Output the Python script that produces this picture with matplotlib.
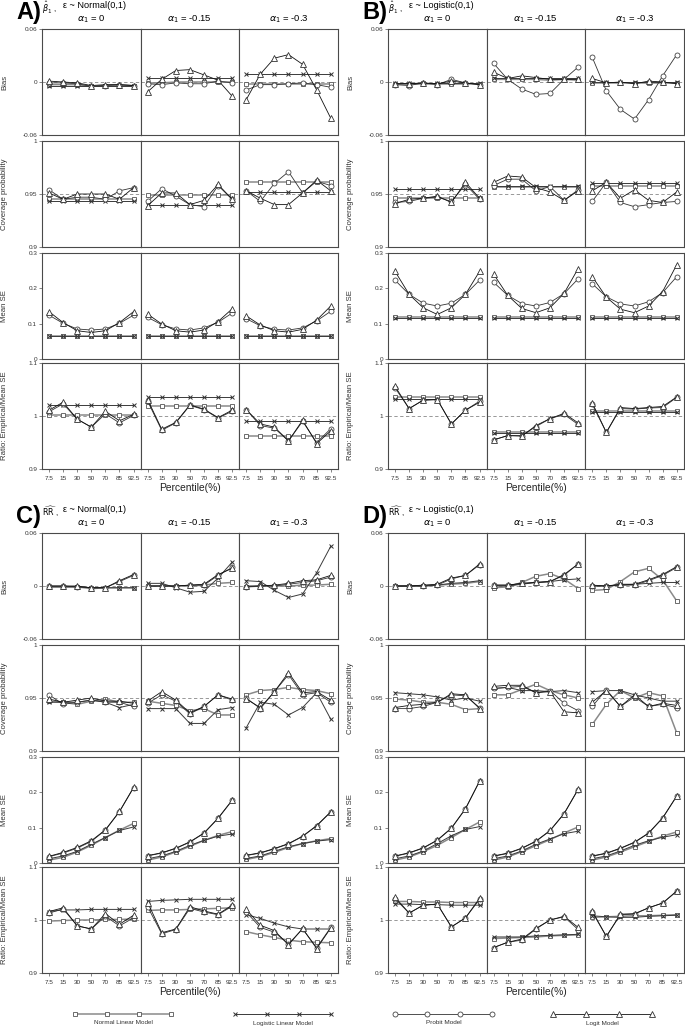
import matplotlib
matplotlib.use('Agg')
import matplotlib.pyplot as plt

plt.rcParams['font.family'] = ['Liberation Sans', 'DejaVu Sans']
plt.rcParams['mathtext.fontset'] = 'dejavusans'

percentiles = ['7.5', '15', '30', '50', '70', '85', '92.5']
alphas = ['0', '-0.15', '-0.3']
models = ['Normal Linear Model', 'Logistic Linear Model', 'Probit Model', 'Logit Model']
metric_labels = ['Bias', 'Coverage probability', 'Mean SE', 'Ratio: Empirical/Mean SE']

# ---------------- Panel A: beta1, eps ~ Normal ----------------
A_bias = {
    'normal':   [[-0.003, -0.003, -0.003, -0.005, -0.004, -0.004, -0.004],
                 [-0.001, -0.001, 0.000, 0.000, 0.000, 0.000, 0.000],
                 [-0.002, -0.002, -0.002, -0.002, -0.002, -0.002, -0.002]],
    'logistic': [[-0.004, -0.004, -0.004, -0.004, -0.004, -0.004, -0.004],
                 [0.004, 0.004, 0.004, 0.004, 0.004, 0.004, 0.004],
                 [0.009, 0.009, 0.009, 0.009, 0.009, 0.009, 0.009]],
    'probit':   [[-0.001, -0.001, -0.002, -0.005, -0.004, -0.003, -0.004],
                 [-0.002, -0.003, -0.001, -0.002, -0.002, 0.001, -0.001],
                 [-0.009, -0.003, -0.003, -0.002, -0.001, -0.003, -0.006]],
    'logit':    [[0.001, 0.000, -0.001, -0.004, -0.003, -0.003, -0.004],
                 [-0.011, 0.003, 0.013, 0.014, 0.008, 0.002, -0.016],
                 [-0.020, 0.009, 0.027, 0.031, 0.020, -0.009, -0.041]],
}
A_cov = {
    'normal':   [[0.945, 0.945, 0.945, 0.945, 0.945, 0.945, 0.945],
                 [0.949, 0.949, 0.949, 0.949, 0.949, 0.949, 0.949],
                 [0.961, 0.961, 0.961, 0.961, 0.961, 0.961, 0.961]],
    'logistic': [[0.943, 0.943, 0.943, 0.943, 0.943, 0.943, 0.943],
                 [0.940, 0.940, 0.940, 0.940, 0.940, 0.940, 0.940],
                 [0.952, 0.952, 0.952, 0.952, 0.952, 0.952, 0.952]],
    'probit':   [[0.954, 0.945, 0.947, 0.947, 0.945, 0.953, 0.956],
                 [0.943, 0.955, 0.948, 0.940, 0.938, 0.958, 0.945],
                 [0.953, 0.943, 0.960, 0.971, 0.951, 0.962, 0.958]],
    'logit':    [[0.951, 0.945, 0.950, 0.950, 0.950, 0.945, 0.956],
                 [0.939, 0.951, 0.951, 0.940, 0.944, 0.959, 0.945],
                 [0.953, 0.946, 0.940, 0.940, 0.951, 0.963, 0.953]],
}
A_se = {
    'normal':   [[0.065, 0.065, 0.065, 0.065, 0.065, 0.065, 0.065],
                 [0.065, 0.065, 0.065, 0.065, 0.065, 0.065, 0.065],
                 [0.065, 0.065, 0.065, 0.065, 0.065, 0.065, 0.065]],
    'logistic': [[0.064, 0.064, 0.064, 0.064, 0.064, 0.064, 0.064],
                 [0.064, 0.064, 0.064, 0.064, 0.064, 0.064, 0.064],
                 [0.064, 0.064, 0.064, 0.064, 0.064, 0.064, 0.064]],
    'probit':   [[0.124, 0.101, 0.085, 0.082, 0.085, 0.101, 0.124],
                 [0.118, 0.097, 0.085, 0.082, 0.088, 0.104, 0.130],
                 [0.114, 0.094, 0.084, 0.082, 0.088, 0.108, 0.135]],
    'logit':    [[0.134, 0.103, 0.080, 0.075, 0.080, 0.103, 0.134],
                 [0.127, 0.099, 0.080, 0.076, 0.082, 0.106, 0.142],
                 [0.122, 0.096, 0.080, 0.076, 0.084, 0.110, 0.150]],
}
A_ratio = {
    'normal':   [[1.002, 1.002, 1.002, 1.002, 1.002, 1.002, 1.002],
                 [1.018, 1.018, 1.018, 1.018, 1.018, 1.018, 1.018],
                 [0.963, 0.963, 0.963, 0.963, 0.963, 0.963, 0.963]],
    'logistic': [[1.021, 1.021, 1.021, 1.021, 1.021, 1.021, 1.021],
                 [1.036, 1.036, 1.036, 1.036, 1.036, 1.036, 1.036],
                 [0.990, 0.990, 0.990, 0.990, 0.990, 0.990, 0.990]],
    'probit':   [[1.008, 1.023, 0.994, 0.979, 1.004, 0.987, 1.001],
                 [1.028, 0.973, 0.987, 1.020, 1.012, 0.996, 1.009],
                 [1.012, 0.982, 0.977, 0.953, 0.990, 0.950, 0.976]],
    'logit':    [[1.011, 1.026, 0.994, 0.979, 1.009, 0.991, 1.003],
                 [1.031, 0.975, 0.988, 1.021, 1.013, 0.997, 1.011],
                 [1.012, 0.985, 0.979, 0.953, 0.992, 0.948, 0.972]],
}

# ---------------- Panel B: beta1, eps ~ Logistic ----------------
B_bias = {
    'normal':   [[-0.002, -0.002, -0.002, -0.002, -0.002, -0.002, -0.002],
                 [0.003, 0.003, 0.003, 0.003, 0.002, 0.003, 0.002],
                 [-0.001, -0.001, -0.001, -0.001, -0.001, -0.001, -0.001]],
    'logistic': [[-0.001, -0.001, -0.001, -0.001, -0.001, -0.001, -0.001],
                 [0.004, 0.004, 0.004, 0.004, 0.004, 0.004, 0.004],
                 [0.000, 0.000, 0.000, 0.000, 0.000, 0.000, 0.000]],
    'probit':   [[-0.003, -0.004, -0.001, -0.003, 0.003, -0.001, -0.003],
                 [0.021, 0.003, -0.008, -0.014, -0.013, 0.003, 0.017],
                 [0.028, -0.010, -0.031, -0.042, -0.020, 0.007, 0.031]],
    'logit':    [[-0.002, -0.002, -0.001, -0.002, 0.001, -0.001, -0.003],
                 [0.011, 0.004, 0.007, 0.005, 0.003, 0.003, 0.003],
                 [0.004, -0.001, 0.000, -0.002, 0.001, 0.000, -0.002]],
}
B_cov = {
    'normal':   [[0.946, 0.946, 0.946, 0.946, 0.946, 0.946, 0.946],
                 [0.957, 0.957, 0.957, 0.957, 0.957, 0.957, 0.957],
                 [0.958, 0.958, 0.958, 0.958, 0.958, 0.958, 0.958]],
    'logistic': [[0.955, 0.955, 0.955, 0.955, 0.955, 0.955, 0.955],
                 [0.958, 0.958, 0.958, 0.958, 0.958, 0.958, 0.958],
                 [0.960, 0.960, 0.960, 0.960, 0.960, 0.960, 0.960]],
    'probit':   [[0.942, 0.943, 0.946, 0.947, 0.943, 0.959, 0.945],
                 [0.958, 0.964, 0.964, 0.953, 0.957, 0.944, 0.954],
                 [0.943, 0.961, 0.942, 0.938, 0.940, 0.942, 0.943]],
    'logit':    [[0.941, 0.945, 0.946, 0.948, 0.942, 0.961, 0.946],
                 [0.961, 0.967, 0.966, 0.956, 0.952, 0.944, 0.953],
                 [0.953, 0.961, 0.946, 0.954, 0.944, 0.942, 0.952]],
}
B_se = {
    'normal':   [[0.119, 0.119, 0.119, 0.119, 0.119, 0.119, 0.119],
                 [0.119, 0.119, 0.119, 0.119, 0.119, 0.119, 0.119],
                 [0.119, 0.119, 0.119, 0.119, 0.119, 0.119, 0.119]],
    'logistic': [[0.115, 0.115, 0.115, 0.115, 0.115, 0.115, 0.115],
                 [0.115, 0.115, 0.115, 0.115, 0.115, 0.115, 0.115],
                 [0.115, 0.115, 0.115, 0.115, 0.115, 0.115, 0.115]],
    'probit':   [[0.223, 0.183, 0.158, 0.150, 0.158, 0.183, 0.223],
                 [0.217, 0.180, 0.157, 0.150, 0.160, 0.185, 0.227],
                 [0.213, 0.176, 0.156, 0.150, 0.162, 0.188, 0.233]],
    'logit':    [[0.248, 0.183, 0.145, 0.126, 0.145, 0.183, 0.248],
                 [0.240, 0.180, 0.143, 0.131, 0.145, 0.186, 0.256],
                 [0.233, 0.175, 0.141, 0.131, 0.150, 0.191, 0.267]],
}
B_ratio = {
    'normal':   [[1.035, 1.035, 1.035, 1.035, 1.035, 1.035, 1.035],
                 [0.969, 0.969, 0.969, 0.969, 0.969, 0.969, 0.969],
                 [1.009, 1.009, 1.009, 1.009, 1.009, 1.009, 1.009]],
    'logistic': [[1.033, 1.033, 1.033, 1.033, 1.033, 1.033, 1.033],
                 [0.968, 0.968, 0.968, 0.968, 0.968, 0.968, 0.968],
                 [1.008, 1.008, 1.008, 1.008, 1.008, 1.008, 1.008]],
    'probit':   [[1.053, 1.014, 1.030, 1.031, 0.985, 1.011, 1.028],
                 [0.955, 0.963, 0.963, 0.980, 0.995, 1.003, 0.984],
                 [1.022, 0.969, 1.014, 1.013, 1.015, 1.016, 1.035]],
    'logit':    [[1.056, 1.014, 1.030, 1.031, 0.985, 1.011, 1.026],
                 [0.955, 0.963, 0.962, 0.982, 0.995, 1.005, 0.987],
                 [1.025, 0.969, 1.016, 1.014, 1.016, 1.018, 1.036]],
}

# ---------------- Panel C: RR, eps ~ Normal ----------------
C_bias = {
    'normal':   [[-0.001, -0.001, -0.001, -0.003, -0.002, -0.002, -0.002],
                 [0.000, 0.000, 0.000, 0.000, 0.001, 0.003, 0.004],
                 [-0.001, 0.000, 0.000, 0.000, 0.001, 0.001, 0.002]],
    'logistic': [[-0.001, -0.001, -0.001, -0.002, -0.002, -0.002, -0.002],
                 [0.003, 0.003, -0.002, -0.007, -0.006, 0.009, 0.027],
                 [0.006, 0.005, -0.005, -0.013, -0.009, 0.015, 0.045]],
    'probit':   [[0.000, 0.000, -0.001, -0.002, -0.002, 0.005, 0.012],
                 [0.000, 0.000, 0.000, 0.001, 0.001, 0.012, 0.021],
                 [-0.001, 0.000, 0.000, 0.002, 0.004, 0.006, 0.010]],
    'logit':    [[0.000, 0.000, 0.000, -0.002, -0.002, 0.006, 0.013],
                 [0.000, 0.000, 0.000, 0.001, 0.002, 0.013, 0.020],
                 [0.000, 0.000, 0.001, 0.003, 0.006, 0.007, 0.012]],
}
C_cov = {
    'normal':   [[0.947, 0.946, 0.944, 0.947, 0.949, 0.946, 0.946],
                 [0.947, 0.945, 0.943, 0.938, 0.940, 0.934, 0.934],
                 [0.953, 0.957, 0.958, 0.960, 0.958, 0.957, 0.954]],
    'logistic': [[0.946, 0.946, 0.946, 0.948, 0.946, 0.941, 0.944],
                 [0.940, 0.940, 0.940, 0.926, 0.926, 0.939, 0.941],
                 [0.922, 0.946, 0.944, 0.934, 0.941, 0.955, 0.930]],
    'probit':   [[0.953, 0.944, 0.946, 0.948, 0.946, 0.946, 0.942],
                 [0.945, 0.953, 0.947, 0.935, 0.942, 0.953, 0.948],
                 [0.950, 0.940, 0.956, 0.972, 0.953, 0.955, 0.946]],
    'logit':    [[0.949, 0.946, 0.948, 0.950, 0.947, 0.947, 0.945],
                 [0.947, 0.956, 0.948, 0.936, 0.942, 0.953, 0.949],
                 [0.949, 0.941, 0.956, 0.974, 0.955, 0.956, 0.948]],
}
C_se = {
    'normal':   [[0.008, 0.016, 0.031, 0.050, 0.072, 0.093, 0.112],
                 [0.008, 0.017, 0.031, 0.047, 0.064, 0.078, 0.089],
                 [0.010, 0.018, 0.030, 0.044, 0.055, 0.063, 0.069]],
    'logistic': [[0.012, 0.020, 0.033, 0.053, 0.072, 0.092, 0.102],
                 [0.012, 0.020, 0.033, 0.050, 0.064, 0.076, 0.082],
                 [0.013, 0.020, 0.033, 0.046, 0.055, 0.062, 0.066]],
    'probit':   [[0.018, 0.028, 0.042, 0.061, 0.093, 0.145, 0.213],
                 [0.020, 0.028, 0.041, 0.059, 0.084, 0.126, 0.177],
                 [0.021, 0.028, 0.040, 0.054, 0.075, 0.105, 0.144]],
    'logit':    [[0.019, 0.030, 0.044, 0.063, 0.094, 0.146, 0.214],
                 [0.021, 0.029, 0.042, 0.060, 0.085, 0.127, 0.178],
                 [0.022, 0.029, 0.041, 0.055, 0.076, 0.106, 0.145]],
}
C_ratio = {
    'normal':   [[0.998, 0.999, 1.000, 1.000, 1.001, 1.001, 1.002],
                 [1.018, 1.019, 1.019, 1.020, 1.021, 1.022, 1.023],
                 [0.978, 0.972, 0.967, 0.962, 0.959, 0.958, 0.957]],
    'logistic': [[1.016, 1.019, 1.019, 1.020, 1.020, 1.020, 1.020],
                 [1.035, 1.037, 1.038, 1.039, 1.039, 1.039, 1.039],
                 [1.010, 1.003, 0.994, 0.987, 0.983, 0.983, 0.983]],
    'probit':   [[1.013, 1.021, 0.989, 0.983, 1.007, 0.989, 1.004],
                 [1.025, 0.974, 0.982, 1.022, 1.015, 1.010, 1.026],
                 [1.015, 0.986, 0.977, 0.955, 0.983, 0.948, 0.986]],
    'logit':    [[1.016, 1.023, 0.989, 0.983, 1.012, 0.992, 1.009],
                 [1.033, 0.976, 0.983, 1.025, 1.017, 1.011, 1.028],
                 [1.020, 0.990, 0.980, 0.953, 0.984, 0.946, 0.985]],
}

# ---------------- Panel D: RR, eps ~ Logistic ----------------
D_bias = {
    'normal':   [[0.000, 0.000, 0.000, 0.001, 0.002, 0.003, 0.005],
                 [-0.002, -0.001, 0.004, 0.011, 0.014, 0.008, -0.003],
                 [-0.005, -0.004, 0.005, 0.016, 0.020, 0.007, -0.017]],
    'logistic': [[0.000, 0.000, 0.000, 0.001, 0.003, 0.004, 0.006],
                 [0.000, 0.000, 0.002, 0.004, 0.005, 0.007, 0.008],
                 [0.000, 0.000, 0.001, 0.002, 0.003, 0.004, 0.004]],
    'probit':   [[0.000, 0.000, 0.000, 0.001, 0.008, 0.012, 0.024],
                 [0.001, 0.001, 0.003, 0.004, 0.005, 0.012, 0.025],
                 [0.000, 0.000, 0.001, 0.001, 0.006, 0.012, 0.021]],
    'logit':    [[0.000, 0.000, 0.001, 0.002, 0.009, 0.012, 0.025],
                 [0.001, 0.001, 0.003, 0.004, 0.005, 0.013, 0.025],
                 [0.001, 0.000, 0.002, 0.002, 0.007, 0.013, 0.022]],
}
D_cov = {
    'normal':   [[0.949, 0.948, 0.946, 0.946, 0.944, 0.939, 0.940],
                 [0.953, 0.953, 0.958, 0.963, 0.957, 0.953, 0.950],
                 [0.925, 0.944, 0.957, 0.950, 0.955, 0.952, 0.917]],
    'logistic': [[0.955, 0.954, 0.953, 0.951, 0.948, 0.950, 0.947],
                 [0.959, 0.960, 0.957, 0.957, 0.956, 0.957, 0.955],
                 [0.956, 0.957, 0.957, 0.953, 0.950, 0.947, 0.947]],
    'probit':   [[0.940, 0.940, 0.942, 0.946, 0.953, 0.952, 0.941],
                 [0.959, 0.960, 0.961, 0.955, 0.957, 0.945, 0.938],
                 [0.942, 0.958, 0.942, 0.951, 0.942, 0.944, 0.941]],
    'logit':    [[0.941, 0.943, 0.944, 0.946, 0.954, 0.953, 0.940],
                 [0.961, 0.962, 0.962, 0.955, 0.956, 0.937, 0.936],
                 [0.946, 0.957, 0.942, 0.953, 0.942, 0.945, 0.943]],
}
D_se = {
    'normal':   [[0.008, 0.017, 0.032, 0.050, 0.072, 0.095, 0.116],
                 [0.008, 0.017, 0.032, 0.049, 0.066, 0.085, 0.102],
                 [0.008, 0.017, 0.031, 0.046, 0.061, 0.076, 0.088]],
    'logistic': [[0.012, 0.020, 0.034, 0.055, 0.077, 0.095, 0.103],
                 [0.012, 0.020, 0.034, 0.053, 0.068, 0.083, 0.090],
                 [0.012, 0.020, 0.034, 0.050, 0.063, 0.073, 0.080]],
    'probit':   [[0.019, 0.028, 0.042, 0.064, 0.098, 0.153, 0.231],
                 [0.019, 0.027, 0.041, 0.061, 0.091, 0.139, 0.208],
                 [0.019, 0.027, 0.041, 0.058, 0.084, 0.127, 0.189]],
    'logit':    [[0.020, 0.029, 0.043, 0.065, 0.099, 0.154, 0.232],
                 [0.020, 0.028, 0.042, 0.062, 0.092, 0.140, 0.209],
                 [0.020, 0.028, 0.042, 0.059, 0.085, 0.128, 0.190]],
}
D_ratio = {
    'normal':   [[1.035, 1.035, 1.034, 1.034, 1.033, 1.033, 1.033],
                 [0.965, 0.966, 0.967, 0.968, 0.970, 0.971, 0.972],
                 [1.005, 1.006, 1.007, 1.008, 1.008, 1.009, 1.010]],
    'logistic': [[1.030, 1.030, 1.029, 1.029, 1.028, 1.028, 1.028],
                 [0.968, 0.968, 0.968, 0.970, 0.971, 0.972, 0.973],
                 [1.008, 1.006, 1.005, 1.005, 1.007, 1.008, 1.009]],
    'probit':   [[1.040, 1.013, 1.028, 1.030, 0.987, 1.004, 1.039],
                 [0.948, 0.958, 0.962, 0.983, 1.000, 1.006, 0.982],
                 [1.015, 0.969, 1.010, 1.011, 1.023, 1.032, 1.054]],
    'logit':    [[1.043, 1.013, 1.028, 1.030, 0.987, 1.004, 1.041],
                 [0.948, 0.958, 0.964, 0.984, 1.000, 1.007, 0.986],
                 [1.017, 0.969, 1.011, 1.012, 1.023, 1.032, 1.055]],
}

panels = [
    ('A)', r'$\hat{\beta}_1$', 'ε ~ Normal(0,1)', [A_bias, A_cov, A_se, A_ratio], 42, 29),
    ('B)', r'$\hat{\beta}_1$', 'ε ~ Logistic(0,1)', [B_bias, B_cov, B_se, B_ratio], 388, 29),
    ('C)', r'$\widehat{\mathrm{RR}}$', 'ε ~ Normal(0,1)', [C_bias, C_cov, C_se, C_ratio], 42, 533),
    ('D)', r'$\widehat{\mathrm{RR}}$', 'ε ~ Logistic(0,1)', [D_bias, D_cov, D_se, D_ratio], 388, 533),
]

# ---------------- styling ----------------
W, H = 685, 1028
styles = {
    'normal':   dict(color='#8a8a8a', lw=1.1, marker='s', ms=3.3, mfc='white', mec='#555555', mew=0.6),
    'logistic': dict(color='#3a3a3a', lw=0.7, marker='x', ms=3.3, mec='#333333', mew=0.7),
    'probit':   dict(color='#333333', lw=0.6, marker='o', ms=3.6, mfc='white', mec='#444444', mew=0.6),
    'logit':    dict(color='#111111', lw=0.6, marker='^', ms=4.0, mfc='white', mec='#333333', mew=0.6),
}
series_order = ['normal', 'logistic', 'probit', 'logit']
ylims = [(-0.06, 0.06), (0.9, 1.0), (0.0, 0.3), (0.9, 1.1)]
yticks = [[-0.06, 0, 0.06], [0.9, 0.95, 1], [0, 0.1, 0.2, 0.3], [0.9, 1, 1.1]]
yticklabels = [['-0.06', '0', '0.06'], ['0.9', '0.95', '1'], ['0', '0.1', '0.2', '0.3'], ['0.9', '1', '1.1']]
reflines = [0.0, 0.95, None, 1.0]
row_offsets = [0, 112, 224, 334]
row_h = 106
col_w = 98.6
spine_col = '#4a4a4a'

fig = plt.figure(figsize=(W / 100, H / 100), dpi=100)


def add_ax(x0, y0, w, h):
    return fig.add_axes([x0 / W, 1 - (y0 + h) / H, w / W, h / H])


def fy(y):
    return 1 - y / H


xs = list(range(1, len(percentiles) + 1))

for letter, est, dist, metrics, left, top in panels:
    fig.text((left - 26) / W, fy(top - 16), letter, fontsize=17, fontweight='bold',
             ha='left', va='center')
    fig.text((left + 0) / W, fy(top - 21), est + ' ,', fontsize=5.8, ha='left', va='center')
    fig.text((left + 21) / W, fy(top - 23), dist, fontsize=6.6, ha='left', va='center')
    for c, a in enumerate(alphas):
        fig.text((left + col_w * (c + 0.5)) / W, fy(top - 10), r'$\alpha_1$ = ' + a,
                 fontsize=6.8, ha='center', va='center')
    for r, data in enumerate(metrics):
        for c in range(3):
            ax = add_ax(left + c * col_w, top + row_offsets[r], col_w, row_h)
            ax.set_xlim(0.5, 7.5)
            ax.set_ylim(*ylims[r])
            if reflines[r] is not None:
                ax.axhline(reflines[r], color='#888888', lw=0.6, ls=(0, (4, 3)), zorder=1)
            for s in series_order:
                ax.plot(xs, data[s][c], zorder=3, **styles[s])
            for sp in ax.spines.values():
                sp.set_color(spine_col)
                sp.set_linewidth(0.8)
            ax.set_yticks(yticks[r])
            ax.set_xticks(xs)
            ax.tick_params(axis='both', length=2, width=0.5, color='#555555', pad=1.5,
                           labelsize=4.6, labelcolor='#333333')
            if c == 0:
                ax.set_yticklabels(yticklabels[r])
                ax.set_ylabel(metric_labels[r], fontsize=5.6, color='#333333')
                ax.yaxis.set_label_coords(-0.34, 0.5)
            else:
                ax.tick_params(axis='y', left=False, labelleft=False)
            if r == 3:
                ax.set_xticklabels(percentiles)
                ax.tick_params(axis='x', pad=3)
            else:
                ax.tick_params(axis='x', bottom=False, labelbottom=False)
    fig.text((left + col_w * 1.5) / W, fy(top + 459), 'Percentile(%)', fontsize=7.4,
             ha='center', va='center', color='#222222')

# ---------------- legend ----------------
legend_specs = [('normal', 75, 171), ('logistic', 235, 331), ('probit', 395, 492), ('logit', 553, 652)]
leg_ax = fig.add_axes([0, 0, 1, 1], facecolor='none')
leg_ax.set_xlim(0, W)
leg_ax.set_ylim(H, 0)
leg_ax.axis('off')
for (s, x0, x1), name in zip(legend_specs, models):
    n = 4
    lx = [x0 + (x1 - x0) * i / (n - 1) for i in range(n)]
    leg_ax.plot(lx, [1014] * n, **styles[s])
    leg_ax.text((x0 + x1) / 2, 1023, name, fontsize=4.6, ha='center', va='center', color='#333333')

fig.savefig('out.png', dpi=100)
